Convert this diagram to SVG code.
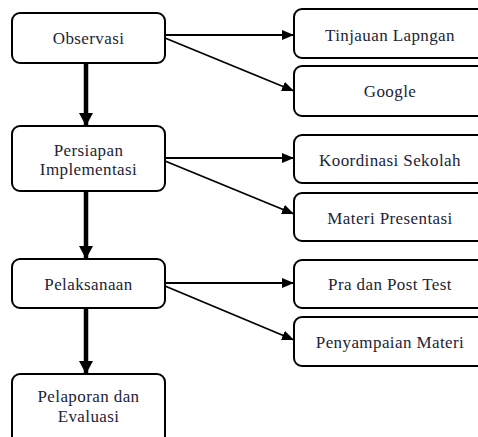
<svg xmlns="http://www.w3.org/2000/svg" width="478" height="437" viewBox="0 0 478 437">
<style>
.box{fill:#fff;stroke:#000;stroke-width:2}
.t{font-family:'Liberation Serif','Times New Roman',serif;font-size:17px;letter-spacing:0.4px;fill:#1c2438;text-anchor:middle}
.thin{stroke:#000;stroke-width:1.8;fill:none;marker-end:url(#ah)}
.thick{stroke:#000;stroke-width:4.5;fill:none;marker-end:url(#ahb)}
</style>
<defs>
<marker id="ah" markerUnits="userSpaceOnUse" markerWidth="12" markerHeight="10" refX="12" refY="5" orient="auto"><path d="M0,0 L12,5 L0,10 Z" fill="#000"/></marker>
<marker id="ahb" markerUnits="userSpaceOnUse" markerWidth="14" markerHeight="14" refX="13" refY="7" orient="auto"><path d="M0,0 L13,7 L0,14 Z" fill="#000"/></marker>
</defs>
<rect width="478" height="437" fill="#fff"/>
<g id="connectors">
<line class="thin" x1="165" y1="35" x2="294" y2="35"/>
<line class="thin" x1="165" y1="38" x2="294" y2="91"/>
<line class="thin" x1="165" y1="158" x2="294" y2="158"/>
<line class="thin" x1="165" y1="161" x2="294" y2="214"/>
<line class="thin" x1="165" y1="283" x2="294" y2="283"/>
<line class="thin" x1="165" y1="286" x2="294" y2="340"/>
<line class="thick" x1="86" y1="63" x2="86" y2="126"/>
<line class="thick" x1="86" y1="191" x2="86" y2="259"/>
<line class="thick" x1="86" y1="308" x2="86" y2="374"/>
</g>
<g id="observasi"><rect class="box" x="12" y="13" width="153" height="50" rx="8"/><text class="t" x="88.5" y="44">Observasi</text></g>
<g id="persiapan"><rect class="box" x="12" y="126" width="153" height="65" rx="8"/><text class="t" x="88.5" y="156">Persiapan</text><text class="t" x="88.5" y="175">Implementasi</text></g>
<g id="pelaksanaan"><rect class="box" x="12" y="259" width="153" height="49" rx="8"/><text class="t" x="88.5" y="290">Pelaksanaan</text></g>
<g id="pelaporan"><rect class="box" x="12" y="374" width="153" height="70" rx="8"/><text class="t" x="88.5" y="402">Pelaporan dan</text><text class="t" x="88.5" y="421.5">Evaluasi</text></g>
<g id="tinjauan"><rect class="box" x="294" y="9" width="192" height="49" rx="8"/><text class="t" x="390" y="41">Tinjauan Lapngan</text></g>
<g id="google"><rect class="box" x="294" y="66" width="192" height="50" rx="8"/><text class="t" x="390" y="97">Google</text></g>
<g id="koordinasi"><rect class="box" x="294" y="135" width="192" height="48" rx="8"/><text class="t" x="390" y="166">Koordinasi Sekolah</text></g>
<g id="materi"><rect class="box" x="294" y="193" width="192" height="48" rx="8"/><text class="t" x="390" y="224">Materi Presentasi</text></g>
<g id="pra"><rect class="box" x="294" y="260" width="192" height="48" rx="8"/><text class="t" x="390" y="290">Pra dan Post Test</text></g>
<g id="penyampaian"><rect class="box" x="294" y="317" width="192" height="49" rx="8"/><text class="t" x="390" y="348">Penyampaian Materi</text></g>
</svg>
